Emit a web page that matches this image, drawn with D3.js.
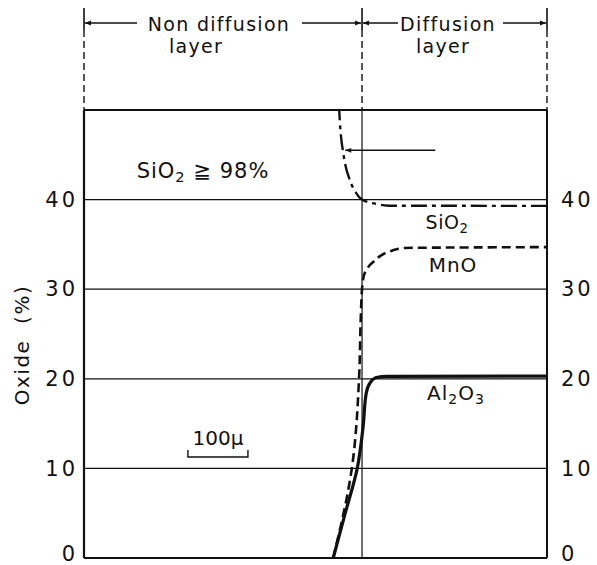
<!DOCTYPE html>
<html><head><meta charset="utf-8">
<script src="https://cdn.jsdelivr.net/npm/d3@7"></script>
<style>body{margin:0;background:#fff}svg{display:block}text{font-family:"DejaVu Sans",sans-serif;fill:#111}</style>
</head><body><svg id="c" width="597" height="565"></svg>
<script>
// distance from the layer boundary (micron), oxide content (%)
const yTicks = [0, 10, 20, 30, 40];
const sio2X = [-38, -32, -23, -12, 0, 25, 45, 308];
const sio2Y = [50, 45.5, 42.7, 41, 40, 39.5, 39.32, 39.3];
const mnoX = [-48, -17, -5, -2, 0, 3, 18, 50, 70, 308];
const mnoY = [0, 10, 20, 27, 30, 31.5, 33, 34.3, 34.6, 34.7];
const alX = [-48, -28, -8, 2, 7, 13, 22, 40, 308];
const alY = [0, 5, 10, 14.8, 18.4, 19.5, 20.1, 20.27, 20.3];
const regions = [{name1: "Non diffusion", name2: "layer", from: -463, to: 0},
                 {name1: "Diffusion", name2: "layer", from: 0, to: 308}];

const svg = d3.select("#c");
const x = d3.scaleLinear().domain([-463, 308]).range([84, 547]);
const y = d3.scaleLinear().domain([0, 50]).range([558, 110]);

svg.append("defs").append("marker").attr("id", "ah").attr("viewBox", "0 0 10 10")
  .attr("refX", 10).attr("refY", 5).attr("markerWidth", 9).attr("markerHeight", 6)
  .attr("orient", "auto-start-reverse").attr("markerUnits", "userSpaceOnUse")
  .append("path").attr("d", "M0,1 L10,5 L0,9 Z").attr("fill", "#111");

// grid lines
svg.append("g").selectAll("line").data(yTicks.concat([50])).join("line")
  .attr("x1", x(-463)).attr("x2", x(308)).attr("y1", d => y(d)).attr("y2", d => y(d))
  .attr("stroke", "#111").attr("stroke-width", d => d === 0 || d === 50 ? 2 : 1.3);

// frame
svg.append("line").attr("x1", x(-463)).attr("x2", x(-463)).attr("y1", y(50)).attr("y2", y(0)).attr("stroke", "#111").attr("stroke-width", 2.2);
svg.append("line").attr("x1", x(308)).attr("x2", x(308)).attr("y1", y(50)).attr("y2", y(0)).attr("stroke", "#111").attr("stroke-width", 2);
svg.append("line").attr("x1", x(0)).attr("x2", x(0)).attr("y1", y(50)).attr("y2", y(0)).attr("stroke", "#111").attr("stroke-width", 1.2);

// header dashed verticals
[-463, 0, 308].forEach(v => {
  svg.append("line").attr("x1", x(v)).attr("x2", x(v)).attr("y1", 8).attr("y2", 30).attr("stroke", "#111").attr("stroke-width", 1.6);
  svg.append("line").attr("x1", x(v)).attr("x2", x(v)).attr("y1", 30).attr("y2", y(50)).attr("stroke", "#111").attr("stroke-width", 1.4).attr("stroke-dasharray", "7,4");
});

// header arrows and text
const hdr = [{x1: x(-463) + 1, x2: 137, rev: true}, {x1: 302, x2: x(0) - 1, rev: false},
             {x1: x(0) + 1, x2: 398, rev: true}, {x1: 503, x2: x(308) - 1, rev: false}];
hdr.forEach(h => {
  const l = svg.append("line").attr("x1", h.x1).attr("x2", h.x2).attr("y1", 23).attr("y2", 23).attr("stroke", "#111").attr("stroke-width", 1.4);
  if (h.rev) l.attr("marker-start", "url(#ah)"); else l.attr("marker-end", "url(#ah)");
});
const hf = {size: 19, ls: 1.3};
function htext(xx, yy, s) {
  svg.append("text").attr("x", xx).attr("y", yy).attr("text-anchor", "middle")
    .attr("font-size", hf.size).attr("letter-spacing", hf.ls).text(s);
}
htext(219, 31, regions[0].name1);
htext(196, 53, regions[0].name2);
htext(448, 31, regions[1].name1);
htext(443, 53, regions[1].name2);

// axes
const la = svg.append("g").attr("transform", `translate(${x(-463)},0)`)
  .call(d3.axisLeft(y).tickValues(yTicks).tickSize(0).tickPadding(6).tickFormat(d3.format("d")));
const ra = svg.append("g").attr("transform", `translate(${x(308)},0)`)
  .call(d3.axisRight(y).tickValues(yTicks).tickSize(0).tickPadding(14).tickFormat(d3.format("d")));
[la, ra].forEach(a => {
  a.select(".domain").remove();
  a.selectAll("text").attr("font-size", 21).attr("letter-spacing", 3).attr("font-family", "DejaVu Sans").attr("fill", "#111")
    .attr("dy", d => d === 0 ? "0.1em" : "0.32em");
});

svg.append("text").attr("transform", "translate(29,345) rotate(-90)").attr("text-anchor", "middle")
  .attr("font-size", 20).attr("letter-spacing", 1.5).attr("xml:space", "preserve").text("Oxide  (%)");

// curves (monotone in the oxide value, so steep parts stay smooth)
const lineY = d3.line().x(d => x(d[0])).y(d => y(d[1])).curve(d3.curveMonotoneY);
const asc = arr => arr.slice().sort((a, b) => a[1] - b[1]);
svg.append("path").datum(asc(sio2X.map((v, i) => [v, sio2Y[i]]))).attr("d", lineY)
  .attr("fill", "none").attr("stroke", "#111").attr("stroke-width", 2.4).attr("stroke-dasharray", "16,5,4,5");
svg.append("path").datum(mnoX.map((v, i) => [v, mnoY[i]])).attr("d", lineY)
  .attr("fill", "none").attr("stroke", "#111").attr("stroke-width", 2.6).attr("stroke-dasharray", "9,5");
svg.append("path").datum(alX.map((v, i) => [v, alY[i]])).attr("d", lineY)
  .attr("fill", "none").attr("stroke", "#111").attr("stroke-width", 3.2);

// pointer line
svg.append("line").attr("x1", x(122)).attr("x2", x(-28)).attr("y1", y(45.5)).attr("y2", y(45.5))
  .attr("stroke", "#111").attr("stroke-width", 1.5).attr("marker-end", "url(#ah)");

// labels
function sub(t, parts, size) {
  parts.forEach(p => {
    const s = t.append("tspan").text(p[0]);
    if (p[1]) s.attr("font-size", size * 0.7).attr("dy", size * 0.2);
    else if (p[2]) s.attr("dy", -size * 0.2);
  });
}
const t1 = svg.append("text").attr("x", 203).attr("y", 178).attr("text-anchor", "middle").attr("font-size", 21).attr("letter-spacing", 1);
sub(t1, [["SiO"], ["2", true], [" ≧ 98%", false, true]], 21);
const t2 = svg.append("text").attr("x", 447).attr("y", 229).attr("text-anchor", "middle").attr("font-size", 19).attr("letter-spacing", 0.5);
sub(t2, [["SiO"], ["2", true]], 19);
svg.append("text").attr("x", 453).attr("y", 272).attr("text-anchor", "middle").attr("font-size", 20).attr("letter-spacing", 1).text("MnO");
const t3 = svg.append("text").attr("x", 456).attr("y", 400).attr("text-anchor", "middle").attr("font-size", 20).attr("letter-spacing", 1);
sub(t3, [["Al"], ["2", true], ["O", false, true], ["3", true]], 20);

// scale bar
const sb0 = x(-290), sb1 = x(-190);
svg.append("text").attr("x", (sb0 + sb1) / 2).attr("y", 445).attr("text-anchor", "middle").attr("font-size", 20).text("100μ");
svg.append("path").attr("d", `M${sb0},450 V457 H${sb1} V450`).attr("fill", "none").attr("stroke", "#111").attr("stroke-width", 1.4);
</script></body></html>
